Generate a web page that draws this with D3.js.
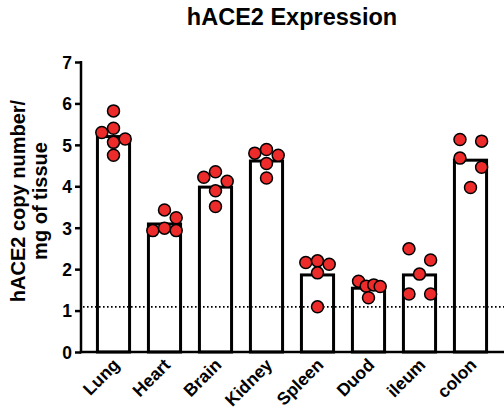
<!DOCTYPE html>
<html>
<head>
<meta charset="utf-8">
<script src="https://cdn.jsdelivr.net/npm/d3@7"></script>
<style>
  body { margin: 0; background: #fff; }
  svg { font-family: "Liberation Sans", Arial, Helvetica, sans-serif; font-weight: bold; }
</style>
</head>
<body>
<div class="chart"></div>
<script>
// tissues on the x axis
var tissues = ["Lung", "Heart", "Brain", "Kidney", "Spleen", "Duod", "ileum", "colon"];
// bar heights (mean copies / mg)
var means = [5.2, 3.09, 3.98, 4.61, 1.86, 1.54, 1.86, 4.63];
// individual animals per tissue
var lungPts   = [5.82, 5.30, 5.40, 5.14, 5.06, 4.75];
var heartPts  = [3.43, 3.24, 2.93, 2.99, 2.93];
var brainPts  = [4.35, 4.22, 4.12, 3.89, 3.51];
var kidneyPts = [4.89, 4.80, 4.75, 4.55, 4.20];
var spleenPts = [2.16, 2.20, 2.12, 1.91, 1.09];
var duodPts   = [1.71, 1.59, 1.62, 1.58, 1.31];
var ileumPts  = [2.49, 2.22, 1.88, 1.40, 1.40];
var colonPts  = [5.13, 5.09, 4.68, 4.46, 3.97];
// scatter column of each point (in dot widths, 0 = bar centre)
var lungCol   = [0, -1, 0, 1, 0, 0];
var heartCol  = [0, 1, -1, 0, 1];
var brainCol  = [0, -1, 1, 0, 0];
var kidneyCol = [0, -1, 1, 0, 0];
var spleenCol = [-1, 0, 1, 0, 0];
var duodCol   = [-0.85, -0.2, 0.45, 1, 0];
var ileumCol  = [-0.9, 0.95, 0, -0.9, 0.95];
var colonCol  = [-0.9, 0.95, -0.9, 0.95, 0];
var yTicks = [0, 1, 2, 3, 4, 5, 6, 7];
var detectionLimit = 1.09;

var points = [lungPts, heartPts, brainPts, kidneyPts, spleenPts, duodPts, ileumPts, colonPts];
var cols = [lungCol, heartCol, brainCol, kidneyCol, spleenCol, duodCol, ileumCol, colonCol];

var width = 504, height = 410;
var dotR = 6;

var svg = d3.select(".chart").append("svg")
    .attr("width", width)
    .attr("height", height);

var x = d3.scalePoint().domain(tissues).range([88, 496]).padding(0.5);
var barW = x.step() * 0.63;
var y = d3.scaleLinear().domain([0, 7]).range([352, 62]);
var axisX = 81;

// title
svg.append("text")
    .attr("x", 292).attr("y", 25)
    .attr("text-anchor", "middle")
    .style("font-size", "23.5px")
    .text("hACE2 Expression");

// y label
var yl = svg.append("text")
    .attr("transform", "translate(0,201) rotate(-90)")
    .attr("text-anchor", "middle")
    .style("font-size", "20px");
yl.append("tspan").attr("x", 0).attr("y", 25).text("hACE2 copy number/");
yl.append("tspan").attr("x", 0).attr("y", 47).text("mg of tissue");

// bars
svg.selectAll("rect.bar")
    .data(tissues)
    .enter().append("rect")
    .attr("class", "bar")
    .attr("x", function(d){ return x(d) - barW/2; })
    .attr("y", function(d, i){ return y(means[i]); })
    .attr("width", barW)
    .attr("height", function(d, i){ return y(0) - y(means[i]); })
    .style("fill", "#fff")
    .style("stroke", "#000")
    .style("stroke-width", "3px");

// detection limit
svg.append("line")
    .attr("x1", axisX + 2).attr("x2", width)
    .attr("y1", y(detectionLimit)).attr("y2", y(detectionLimit))
    .style("stroke", "#000")
    .style("stroke-width", "1.6px")
    .style("stroke-dasharray", "1.6,2.4");

// axes
var yAxis = d3.axisLeft(y).tickValues(yTicks).tickSize(6).tickPadding(3).tickFormat(d3.format("d"));
var ga = svg.append("g").attr("transform", "translate(" + axisX + ",0)").call(yAxis);
ga.select(".domain").remove();
ga.selectAll("line").style("stroke", "#000").style("stroke-width", "2.5px");
ga.selectAll("text").style("font-size", "17.5px").style("font-family", "inherit").style("font-weight", "bold").attr("dy", "0.36em");

svg.append("line")
    .attr("x1", axisX).attr("x2", axisX)
    .attr("y1", y(7) - 1).attr("y2", y(0) + 1.25)
    .style("stroke", "#000").style("stroke-width", "2.5px");
svg.append("line")
    .attr("x1", axisX - 1.25).attr("x2", width)
    .attr("y1", y(0)).attr("y2", y(0))
    .style("stroke", "#000").style("stroke-width", "2.5px");

// x labels
svg.selectAll("text.xl")
    .data(tissues)
    .enter().append("text")
    .attr("class", "xl")
    .attr("text-anchor", "end")
    .attr("transform", function(d){ return "translate(" + (x(d) + 7) + ",366) rotate(-45)"; })
    .style("font-size", "17.5px")
    .text(function(d){ return d; });

// points
tissues.forEach(function(t, i){
    svg.selectAll(null)
        .data(points[i])
        .enter().append("circle")
        .attr("cx", function(d, j){ return x(t) + cols[i][j] * dotR * 1.95; })
        .attr("cy", function(d){ return y(d); })
        .attr("r", dotR)
        .style("fill", "#ee2b2b")
        .style("stroke", "#000")
        .style("stroke-width", "1.5px");
});
</script>
</body>
</html>
